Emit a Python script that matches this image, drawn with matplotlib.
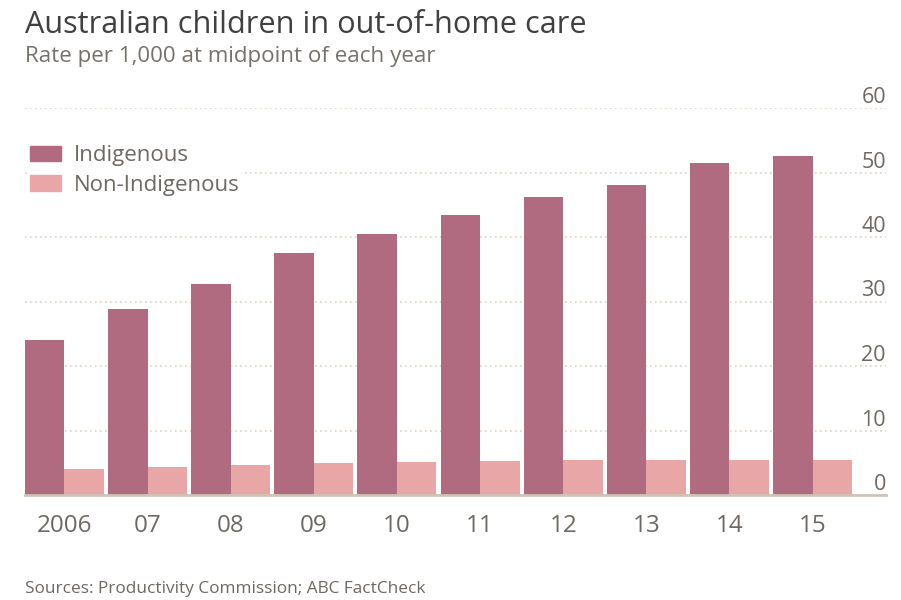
import matplotlib
matplotlib.use("Agg")
import matplotlib.pyplot as plt
import matplotlib.transforms as mtransforms
from matplotlib.patches import Patch
import numpy as np

years = ["2006", "07", "08", "09", "10", "11", "12", "13", "14", "15"]
indigenous = [24.1, 28.9, 32.7, 37.5, 40.4, 43.4, 46.2, 48.1, 51.4, 52.5]
non_indigenous = [4.1, 4.3, 4.65, 4.95, 5.05, 5.2, 5.4, 5.4, 5.5, 5.5]
y_ticks = [0, 10, 20, 30, 40, 50, 60]

title = "Australian children in out-of-home care"
subtitle = "Rate per 1,000 at midpoint of each year"
source = "Sources: Productivity Commission; ABC FactCheck"

c_ind = "#b06b81"
c_non = "#e9a6a6"
c_text = "#6e6862"
c_grid = "#e2d2c2"

plt.rcParams["font.family"] = ["Open Sans", "DejaVu Sans"]

fig = plt.figure(figsize=(9.01, 6.00), dpi=100)
fig.patch.set_facecolor("white")
ax = fig.add_axes([25 / 901, 1 - 495 / 600, (886 - 25) / 901, (495 - 108) / 600])

x = np.arange(len(years))
w = 0.475
ax.bar(x - w / 2, indigenous, width=w, color=c_ind, zorder=3, label="Indigenous")
ax.bar(x + w / 2, non_indigenous, width=w, color=c_non, zorder=3, label="Non-Indigenous")

ax.set_xlim(-0.475, 9.884)
ax.set_ylim(0, 60)

for s in ["top", "right", "left"]:
    ax.spines[s].set_visible(False)
ax.spines["bottom"].set_color("#cdc4b9")
ax.spines["bottom"].set_linewidth(2)
ax.spines["bottom"].set_zorder(4)

ax.set_yticks(y_ticks)
ax.set_yticklabels([])
ax.tick_params(axis="y", length=0)
ax.yaxis.grid(True, color=c_grid, linestyle=(0, (1, 2)), linewidth=1.2, zorder=0)
ax.set_axisbelow(True)

trans = mtransforms.blended_transform_factory(ax.transAxes, ax.transData)
for v in y_ticks:
    ax.annotate(str(v), xy=(1.0, v), xycoords=trans, xytext=(0, 0),
                textcoords="offset points", ha="right", va="bottom",
                fontsize=15.5, color=c_text)

ax.set_xticks(x)
ax.set_xticklabels(years, fontsize=17.4, color=c_text)
ax.tick_params(axis="x", length=0, pad=14)

handles = [Patch(color=c_ind), Patch(color=c_non)]
leg = ax.legend(handles, ["Indigenous", "Non-Indigenous"], loc="upper left",
                bbox_to_anchor=(28 / 901, 1 - 143 / 600), bbox_transform=fig.transFigure,
                frameon=True, fontsize=16, handlelength=1.4, handleheight=0.68,
                handletextpad=0.55, labelspacing=0.38, borderpad=0.1, borderaxespad=0)
leg.get_frame().set_facecolor("white")
leg.get_frame().set_edgecolor("white")
leg.get_frame().set_alpha(1)
for t in leg.get_texts():
    t.set_color(c_text)

fig.text(25 / 901, 1 - 33 / 600, title, fontsize=22.1, color="#404040", ha="left", va="baseline")
fig.text(25 / 901, 1 - 62 / 600, subtitle, fontsize=16.1, color="#77716b", ha="left", va="baseline")
fig.text(25 / 901, 1 - 593 / 600, source, fontsize=12.45, color=c_text, ha="left", va="baseline")

fig.savefig("out.png", dpi=100, facecolor="white")
